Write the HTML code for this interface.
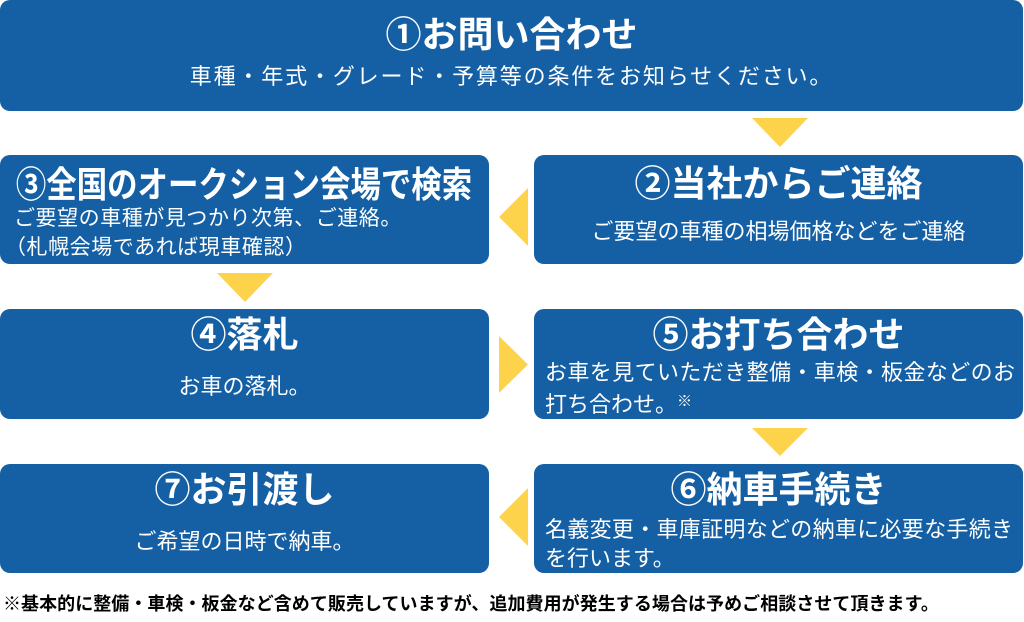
<!DOCTYPE html>
<html><head><meta charset="utf-8">
<style>
html,body{margin:0;padding:0;background:#fff;}
body{width:1024px;height:622px;position:relative;overflow:hidden;font-family:"Liberation Sans","Noto Sans CJK JP",sans-serif;}
.box{position:absolute;background:#1560a4;border-radius:10px;}
.t{position:absolute;color:#fff;font-weight:bold;font-size:36px;line-height:36px;white-space:nowrap;text-align:center;}
.s{position:absolute;color:#fff;font-size:22px;line-height:22px;white-space:nowrap;}
.c{text-align:center;}
svg{position:absolute;left:0;top:0;}
.fn{position:absolute;left:3px;top:595px;font-size:18px;line-height:18px;font-weight:bold;color:#000;letter-spacing:0.05px;white-space:nowrap;}
</style></head>
<body>
<div class="box" style="left:0;top:0;width:1023px;height:111px;"></div>
<div class="box" style="left:534px;top:155px;width:489px;height:109px;"></div>
<div class="box" style="left:0;top:155px;width:489px;height:109px;"></div>
<div class="box" style="left:0;top:309px;width:489px;height:110px;"></div>
<div class="box" style="left:534px;top:309px;width:489px;height:110px;"></div>
<div class="box" style="left:0;top:464px;width:489px;height:109px;"></div>
<div class="box" style="left:534px;top:464px;width:489px;height:109px;"></div>

<svg width="1024" height="622">
<g fill="#fdd34c">
<polygon points="752,118 808,118 780,147"/>
<polygon points="528,188 528,246 499,217"/>
<polygon points="217,273 273,273 245,302"/>
<polygon points="499,336 499,393 528,364.5"/>
<polygon points="752,428 808,428 780,456"/>
<polygon points="528,488 528,546 499,517"/>
</g>
</svg>

<!-- box 1 -->
<div class="t" style="left:0;width:1023px;top:17px;">①お問い合わせ</div>
<div class="s c" style="left:0;width:1023px;top:66px;letter-spacing:1.85px;">車種・年式・グレード・予算等の条件をお知らせください。</div>

<!-- box 2 -->
<div class="t" style="left:534px;width:489px;top:166px;">②当社からご連絡</div>
<div class="s c" style="left:534px;width:489px;top:221px;">ご要望の車種の相場価格などをご連絡</div>

<!-- box 3 -->
<div class="t" style="left:-60px;width:609px;top:167px;"><span style="display:inline-block;transform:scaleX(0.845);">③全国のオークション会場で検索</span></div>
<div class="s" style="left:14px;top:208px;font-size:21px;line-height:21px;letter-spacing:0.55px;">ご要望の車種が見つかり次第、ご連絡。</div>
<div class="s" style="left:5px;top:237px;font-size:21px;line-height:21px;letter-spacing:0.55px;">（札幌会場であれば現車確認）</div>

<!-- box 4 -->
<div class="t" style="left:0;width:489px;top:317px;">④落札</div>
<div class="s c" style="left:0;width:489px;top:376px;">お車の落札。</div>

<!-- box 5 -->
<div class="t" style="left:534px;width:489px;top:317px;">⑤お打ち合わせ</div>
<div class="s" style="left:545px;top:362px;letter-spacing:0.4px;">お車を見ていただき整備・車検・板金などのお</div>
<div class="s" style="left:545px;top:391px;">打ち合わせ。<span style="font-size:15px;vertical-align:6px;">※</span></div>

<!-- box 6 -->
<div class="t" style="left:534px;width:489px;top:472px;">⑥納車手続き</div>
<div class="s" style="left:545px;top:519px;letter-spacing:0.3px;">名義変更・車庫証明などの納車に必要な手続き</div>
<div class="s" style="left:545px;top:548px;">を行います。</div>

<!-- box 7 -->
<div class="t" style="left:0;width:489px;top:472px;">⑦お引渡し</div>
<div class="s c" style="left:0;width:489px;top:531px;">ご希望の日時で納車。</div>

<div class="fn">※基本的に整備・車検・板金など含めて販売していますが、追加費用が発生する場合は予めご相談させて頂きます。</div>
</body></html>
